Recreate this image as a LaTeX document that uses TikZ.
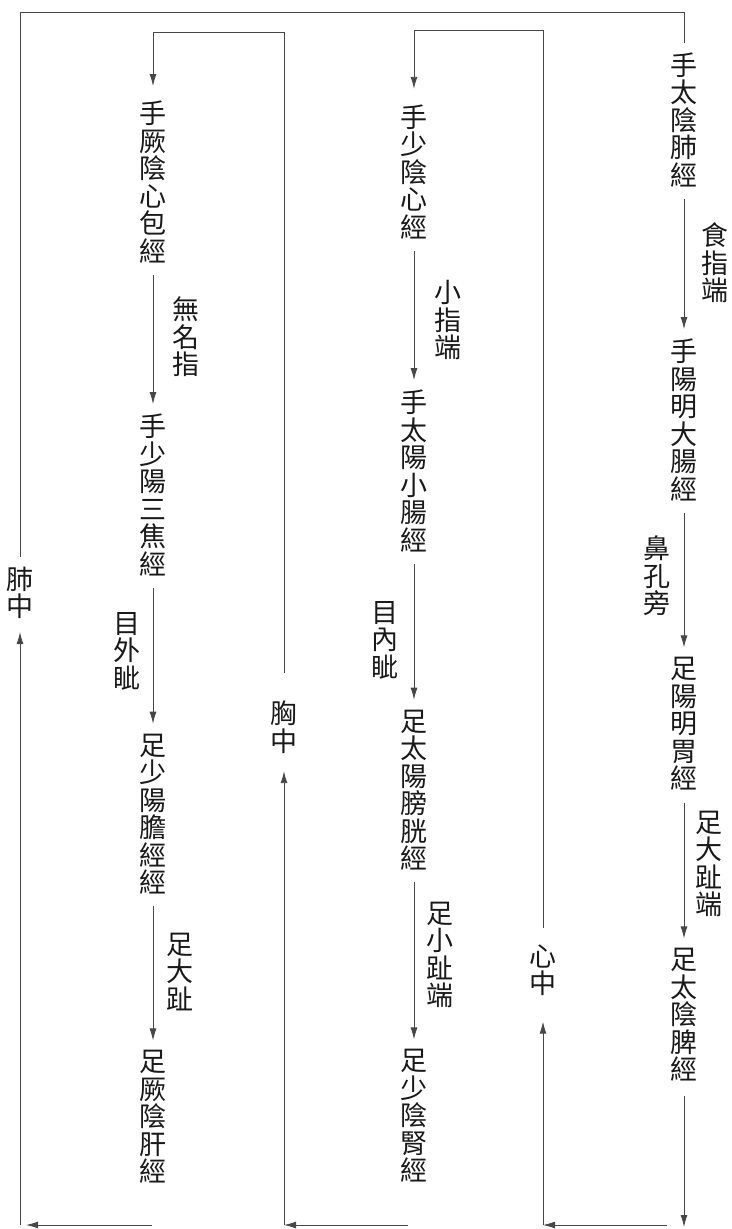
\documentclass[tikz,border=0pt]{standalone}
\usepackage{fontspec}
\newfontfamily\cjk{Noto Sans CJK TC}
\usetikzlibrary{arrows.meta}
\begin{document}
\begin{tikzpicture}[x=1pt,y=-1pt,
  mer/.style={font=\cjk\fontsize{27}{27.5}\selectfont, align=center, inner sep=0pt, outer sep=0pt, text=black!90},
  ln/.style={draw=black!72, line width=0.9pt},
  arr/.style={ln, -{Latex[length=12pt,width=7pt]}},
  chain/.style={arr, shorten <=12pt, shorten >=10pt}
]
\useasboundingbox (0,0) rectangle (731,1229);

% column 4
\node[mer] (a1) at (684,120) {手\\太\\陰\\肺\\經};
\node[mer] (a2) at (684,420) {手\\陽\\明\\大\\腸\\經};
\node[mer] (a3) at (684,724) {足\\陽\\明\\胃\\經};
\node[mer] (a4) at (684,1015) {足\\太\\陰\\脾\\經};
% column 3
\node[mer] (b1) at (414,172) {手\\少\\陰\\心\\經};
\node[mer] (b2) at (414,471) {手\\太\\陽\\小\\腸\\經};
\node[mer] (b3) at (414,790) {足\\太\\陽\\膀\\胱\\經};
\node[mer] (b4) at (414,1116) {足\\少\\陰\\腎\\經};
% column 2
\node[mer] (c1) at (153,182) {手\\厥\\陰\\心\\包\\經};
\node[mer] (c2) at (153,495) {手\\少\\陽\\三\\焦\\經};
\node[mer] (c3) at (153,814) {足\\少\\陽\\膽\\經\\經};
\node[mer] (c4) at (153,1117) {足\\厥\\陰\\肝\\經};

% centre labels
\node[mer] (fz) at (20,593) {肺\\中};
\node[mer] (xz) at (284,727) {胸\\中};
\node[mer] (sz) at (543,970) {心\\中};

% edge labels
\node[mer] (l1) at (715,263) {食\\指\\端};
\node[mer] (l2) at (657,576) {鼻\\孔\\旁};
\node[mer] (l3) at (709,864) {足\\大\\趾\\端};
\node[mer] (l4) at (448,320) {小\\指\\端};
\node[mer] (l5) at (385,640) {目\\內\\眦};
\node[mer] (l6) at (440,955) {足\\小\\趾\\端};
\node[mer] (l7) at (186,337) {無\\名\\指};
\node[mer] (l8) at (127,651) {目\\外\\眦};
\node[mer] (l9) at (180,972) {足\\大\\趾};

% corner and free-end coordinates
\coordinate (tl) at (20,12);
\coordinate (tr) at (684,12);
\coordinate (t3r) at (543,30);
\coordinate (t3l) at (414,30);
\coordinate (t2r) at (284,32);
\coordinate (t2l) at (153,32);
\coordinate (br4) at (684,1227);
\coordinate (h3s) at (667,1225);
\coordinate (h3e) at (543,1225);
\coordinate (h2s) at (408,1225);
\coordinate (h2e) at (284,1225);
\coordinate (h1s) at (152,1225);
\coordinate (h1e) at (20,1225);

% column chains
\draw[chain] (a1) -- (a2);
\draw[chain] (a2) -- (a3);
\draw[chain] (a3) -- (a4);
\draw[arr, shorten <=14pt] (a4) -- (br4);
\draw[chain] (b1) -- (b2);
\draw[chain] (b2) -- (b3);
\draw[chain] (b3) -- (b4);
\draw[chain] (c1) -- (c2);
\draw[chain] (c2) -- (c3);
\draw[chain] (c3) -- (c4);

% bottom returns
\draw[arr] (h3s) -- (h3e);
\draw[arr] (h2s) -- (h2e);
\draw[arr, shorten >=6pt] (h1s) -- (h1e);
\draw[arr, shorten >=26pt] (h3e) -- (sz);
\draw[arr, shorten >=18pt] (h2e) -- (xz);
\draw[arr, shorten >=13pt] (h1e) -- (fz);

% top loops
\draw[ln, shorten <=10pt, shorten >=10pt] (fz) -- (tl) -- (tr) -- (a1);
\draw[arr, shorten <=16pt, shorten >=16pt] (sz) -- (t3r) -- (t3l) -- (b1);
\draw[arr, shorten <=28pt, shorten >=15pt] (xz) -- (t2r) -- (t2l) -- (c1);
\end{tikzpicture}
\end{document}
